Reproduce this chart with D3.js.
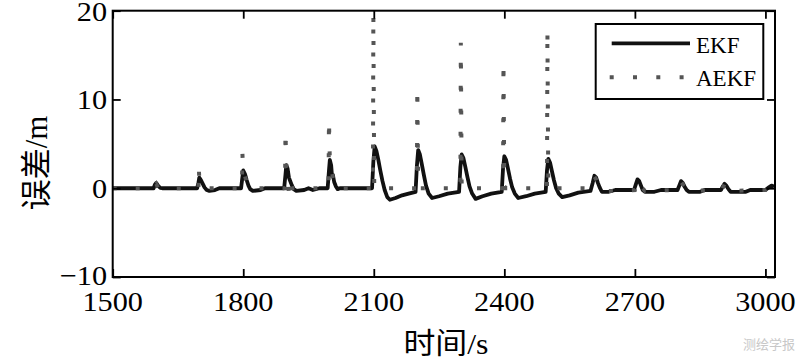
<!DOCTYPE html>
<html><head><meta charset="utf-8">
<script src="https://cdn.jsdelivr.net/npm/d3@7"></script>
<style>html,body{margin:0;padding:0;background:#fff;}svg{display:block;}</style>
</head><body>
<script>
// ---- data ----
const xTicks = [1500, 1800, 2100, 2400, 2700, 3000];
const yTicks = [-10, 0, 10, 20];
const seriesNames = ["EKF", "AEKF"];
const ekfTime = [1500,1594,1597,1600,1604,1609,1614,1694,1697,1699,1703,1707,1711,1716,1722,1735,1745,
  1795,1798,1800,1804,1808,1812,1816,1822,1840,1850,1894,1897,1899,1902,1905,1908,1912,1916,1922,1940,1950,1960,1975,
  1994,1997,1999,2002,2004,2006,2009,2013,2017,2022,2096,2099,2102,2106,2110,2115,2120,2125,2131,2137,2150,2165,2180,
  2196,2199,2202,2206,2210,2215,2220,2226,2234,2250,2270,2296,2299,2302,2306,2310,2315,2320,2326,2334,2350,2370,
  2394,2397,2400,2404,2408,2413,2418,2424,2432,2450,2470,2495,2498,2501,2505,2509,2514,2519,2525,2533,2550,2570,
  2598,2603,2607,2611,2615,2619,2624,2640,2655,2665,2698,2702,2706,2710,2714,2718,2723,2745,2760,
  2798,2802,2806,2810,2814,2819,2824,2850,2860,2898,2902,2906,2910,2915,2920,2955,2965,3000,3008,3014,3020];
const ekfErr = [0,0,0.4,0.6,0.3,0.05,0,0,0.6,1.2,0.9,0.5,0.1,-0.2,-0.3,-0.2,0,
  0,1.2,2.0,1.6,0.9,0.3,-0.1,-0.3,-0.2,0,0,1.5,2.6,2.2,1.2,0.8,0.3,-0.1,-0.3,-0.2,0,-0.2,0,
  0,2.0,3.2,2.6,1.4,1.5,0.7,0.2,-0.1,0,0,3.0,4.7,4.2,3.3,2.0,0.8,-0.2,-1.0,-1.3,-1.1,-0.8,-0.6,
  -0.4,2.5,4.3,3.8,2.8,1.5,0.3,-0.6,-1.1,-0.9,-0.6,-0.4,2.4,3.8,3.4,2.5,1.3,0.2,-0.6,-1.2,-0.9,-0.6,
  -0.4,2.2,3.6,3.2,2.3,1.1,0.1,-0.6,-1.1,-0.9,-0.6,-0.4,2.0,3.3,2.9,2.0,0.9,0.0,-0.6,-1.0,-0.8,-0.5,
  -0.3,0.6,1.4,1.2,0.6,0.1,-0.4,-0.4,-0.2,-0.2,-0.2,0.4,1.0,0.8,0.3,-0.2,-0.4,-0.4,-0.2,
  -0.2,0.3,0.8,0.6,0.2,-0.2,-0.4,-0.4,-0.2,-0.2,0.2,0.5,0.3,-0.1,-0.4,-0.4,-0.2,-0.2,0.1,0.3,0.2];
const aekfTime = [1500,1594,1597,1600,1604,1609,1697,1698,1699,1703,1707,1712,
  1797,1798,1800,1804,1808,1813,1896,1897,1899,1902,1905,1908,1913,1996,1997,1999,2002,2006,2011,
  2098,2099,2101,2105,2199,2200,2202,2206,2299,2300,2302,2306,2397,2398,2400,2404,2498,2499,2501,2505,
  2600,2603,2607,2611,2615,2619,2624,2660,2700,2706,2714,2723,2800,2806,2814,2824,2900,2906,2915,2920,3000,3014,3020];
const aekfErr = [0,0,0.3,0.5,0.1,0,0,2.3,1.0,0.8,0.3,0,
  0,4.0,1.8,1.4,0.6,0,0,6.4,2.4,2.0,-0.7,0.6,0,0,7.7,3.0,2.4,1.2,0,
  0,19.6,0.2,0,0,11.3,0.2,0,0,16.4,0.2,0,0,14.2,0.2,0,0,17.8,0.2,0,
  0,0.6,1.3,1.0,0.5,0,-0.3,-0.3,-0.2,0.9,0.2,-0.3,-0.2,0.7,0.2,-0.3,-0.2,0.5,0,-0.3,-0.2,0.3,0.2];

// ---- layout ----
const W = 800, H = 361;
const L = 112.7, R = 775, T = 10.7, B = 277;
const serif = "'Liberation Serif','Times New Roman'";
const svg = d3.select("body").append("svg").attr("width", W).attr("height", H);

const x = d3.scaleLinear().domain([1500, 3022]).range([L, R]);
const y = d3.scaleLinear().domain([-10, 20]).range([B, T]);

svg.append("defs").append("clipPath").attr("id","clip")
  .append("rect").attr("x", L).attr("y", T).attr("width", R-L).attr("height", B-T);

const line = d3.line().x(d => x(d[0])).y(d => y(d[1]));
const ekf = ekfTime.map((t,i) => [t, ekfErr[i]]);
const aekf = aekfTime.map((t,i) => [t, aekfErr[i]]);

const plot = svg.append("g").attr("clip-path","url(#clip)");
plot.append("path").datum(ekf).attr("d", line)
  .attr("fill","none").attr("stroke","#111").attr("stroke-width",3.8).attr("stroke-linejoin","round");
plot.append("path").datum(aekf).attr("d", line)
  .attr("fill","none").attr("stroke","#555").attr("stroke-width",4).attr("stroke-dasharray","4,19");

// axes (MATLAB box style, inward ticks)
const tl = 8;
const axB = svg.append("g").attr("transform",`translate(0,${B})`)
  .call(d3.axisBottom(x).tickValues(xTicks).tickSize(-tl).tickFormat(""));
const axT = svg.append("g").attr("transform",`translate(0,${T})`)
  .call(d3.axisTop(x).tickValues(xTicks).tickSize(-tl).tickFormat(""));
const axL = svg.append("g").attr("transform",`translate(${L},0)`)
  .call(d3.axisLeft(y).tickValues(yTicks).tickSize(-tl).tickFormat(""));
const axR = svg.append("g").attr("transform",`translate(${R},0)`)
  .call(d3.axisRight(y).tickValues(yTicks).tickSize(-tl).tickFormat(""));
[axB,axT,axL,axR].forEach(a => {
  a.select(".domain").remove();
  a.selectAll(".tick line").attr("stroke","#000").attr("stroke-width",1.8);
});
svg.append("rect").attr("x",L).attr("y",T).attr("width",R-L).attr("height",B-T)
  .attr("fill","none").attr("stroke","#000").attr("stroke-width",2);

// tick labels
const fs = 27.5;
xTicks.forEach(v => {
  svg.append("text").attr("transform",`translate(${x(v)},310.5) scale(1.1,1)`)
    .attr("text-anchor","middle").attr("font-family",serif+",serif").attr("font-size",fs).attr("fill","#000")
    .text(v);
});
yTicks.forEach(v => {
  const by = v === -10 ? y(v) + 7.5 : Math.max(y(v) + 9.5, 21);
  svg.append("text").attr("transform",`translate(107,${by}) scale(1.1,1)`)
    .attr("text-anchor","end").attr("font-family",serif+",serif").attr("font-size",fs).attr("fill","#000")
    .text(v < 0 ? "\u2212" + Math.abs(v) : v);
});

// axis titles
svg.append("text").attr("transform","translate(446,354) scale(1.1,1)")
  .attr("text-anchor","middle").attr("font-family",serif+",'Noto Sans CJK SC',serif").attr("font-size",29)
  .text("时间/s");
svg.append("text").attr("transform","translate(47,163) rotate(-90)")
  .attr("text-anchor","middle").attr("font-family",serif+",'Noto Sans CJK SC',serif").attr("font-size",31)
  .text("误差/m");

// legend
const lg = svg.append("g");
lg.append("rect").attr("x",595.7).attr("y",24).attr("width",167.6).attr("height",75)
  .attr("fill","#fff").attr("stroke","#000").attr("stroke-width",2);
lg.append("line").attr("x1",611.7).attr("x2",690).attr("y1",43.3).attr("y2",43.3)
  .attr("stroke","#111").attr("stroke-width",3.8);
lg.append("line").attr("x1",609.7).attr("x2",690).attr("y1",77.3).attr("y2",77.3)
  .attr("stroke","#555").attr("stroke-width",4).attr("stroke-dasharray","4,19.3");
seriesNames.forEach((n,i) => {
  lg.append("text").attr("x",696).attr("y",[52.5,86][i]).attr("font-family",serif+",serif")
    .attr("font-size",23).attr("fill","#000").text(n);
});

// watermark
svg.append("text").attr("x",795).attr("y",349).attr("text-anchor","end")
  .attr("font-family","'Noto Sans CJK SC'").attr("font-size",13).attr("fill","#c8c8c8").text("测绘学报");
</script>
</body></html>
